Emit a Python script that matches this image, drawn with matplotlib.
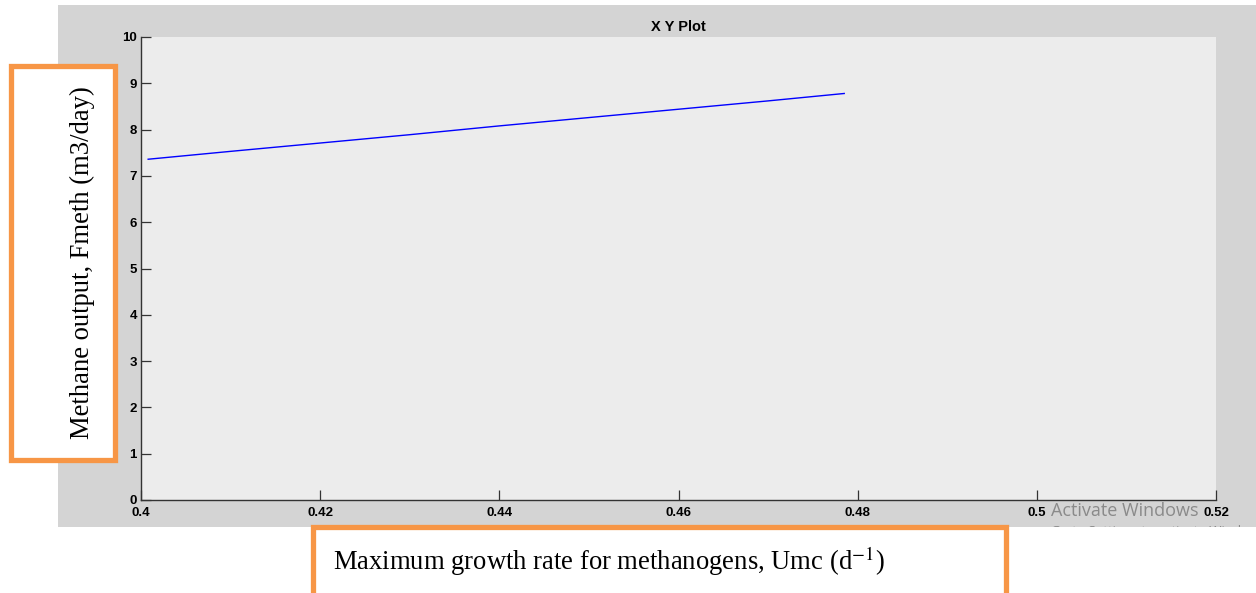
import matplotlib.pyplot as plt
from matplotlib.patches import Rectangle

# Umc sweep vs methane output
umc = [0.4008, 0.41, 0.42, 0.43, 0.44, 0.45, 0.46, 0.47, 0.4785]
fmeth = [7.36, 7.53, 7.71, 7.89, 8.08, 8.26, 8.44, 8.62, 8.78]

xticks = [0.4, 0.42, 0.44, 0.46, 0.48, 0.5, 0.52]
xticklabels = ["0.4", "0.42", "0.44", "0.46", "0.48", "0.5", "0.52"]
yticks = list(range(0, 11))

W, H = 1256, 593
fig = plt.figure(figsize=(W / 100, H / 100), dpi=100)
fig.patch.set_facecolor("white")

# grey simulink-style window behind the axes
fig.add_artist(Rectangle((58 / W, 1 - 527 / H), 1 - 58 / W, (527 - 5) / H,
                         transform=fig.transFigure, facecolor="#d4d4d4",
                         edgecolor="none", zorder=0))

ax = fig.add_axes([141 / W, 1 - 500 / H, (1216 - 141) / W, (500 - 37) / H])
ax.set_facecolor("#ececec")
ax.set_zorder(1)
ax.plot(umc, fmeth, color="#0000ff", lw=1.0)
ax.set_xlim(0.4, 0.52)
ax.set_ylim(0, 10)
ax.set_xticks(xticks)
ax.set_xticklabels(xticklabels)
ax.set_yticks(yticks)
for s in ["top", "right"]:
    ax.spines[s].set_visible(False)
for s in ["left", "bottom"]:
    ax.spines[s].set_color("#333333")
    ax.spines[s].set_linewidth(1.0)
ax.tick_params(direction="in", length=7, width=0.9, color="#333333",
               labelsize=9.5)
ax.tick_params(axis="x", pad=5)
ax.tick_params(axis="y", pad=3)
for lab in ax.get_xticklabels() + ax.get_yticklabels():
    lab.set_fontweight("bold")
    lab.set_family("Liberation Sans")
ax.set_title("X Y Plot", fontsize=10.5, fontweight="bold",
             family="Liberation Sans", pad=4)

fig.text(678 / W, 1 - 532 / H, "X Axis", fontsize=9.5, fontweight="bold",
         family="Liberation Sans", ha="center", va="center", zorder=2)

# windows watermark
fig.text(1051 / W, 1 - 511 / H, "Activate Windows", fontsize=13,
         color="#8a8a8a", family="Open Sans", ha="left", va="center", zorder=2)
fig.text(1051 / W, 1 - 531 / H, "Go to Settings to activate Windows.",
         fontsize=9.5, color="#8a8a8a", family="Open Sans", ha="left",
         va="center", zorder=2)
fig.add_artist(Rectangle((1008 / W, 0), 1 - 1008 / W, 1 - 527 / H,
                         transform=fig.transFigure, facecolor="white",
                         edgecolor="none", zorder=3))

orange = "#f79646"

# y label box
fig.add_artist(Rectangle((10.5 / W, 1 - 459.5 / H), 104 / W, 394 / H,
                         transform=fig.transFigure, facecolor="white",
                         edgecolor=orange, lw=3.8, zorder=4))
fig.text(82 / W, 1 - 263 / H, "Methane output, Fmeth (m3/day)",
         rotation=90, fontsize=19.2, family="Liberation Serif",
         ha="center", va="center", zorder=5)

# x label box
fig.add_artist(Rectangle((312.5 / W, -10 / H), 693 / W, (10 + 593 - 526.5) / H,
                         transform=fig.transFigure, facecolor="white",
                         edgecolor=orange, lw=3.8, zorder=4))
fig.text(333 / W, 1 - 561 / H,
         r"Maximum growth rate for methanogens, Umc (d$^{-1}$)",
         fontsize=19.2, family="Liberation Serif", ha="left", va="center",
         math_fontfamily="stix", zorder=5)

fig.savefig("out.png", dpi=100)
